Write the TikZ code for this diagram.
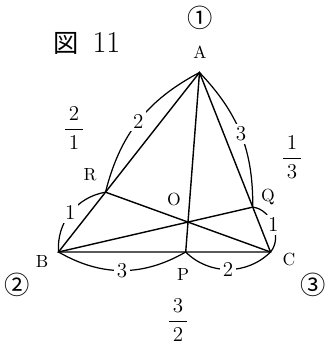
\documentclass[tikz,border=0pt]{standalone}
\usepackage{amsmath}
\usepackage{fontspec}
\newfontfamily\cjk{Noto Sans CJK JP}
\usetikzlibrary{calc}

\begin{document}
\begin{tikzpicture}[
  seg/.style={line width=0.8pt},
  arcb/.style={line width=0.7pt},
  ptl/.style={font=\normalsize, inner sep=1pt},
  arcnum/.style={fill=white, font=\large, inner sep=1.5pt},
  frc/.style={font=\large, inner sep=0pt},
  circnum/.style={font=\cjk\Large, inner sep=0pt},
]
\useasboundingbox (0,0) rectangle (6.5,7.08);

%% ── Vertices and division points ────────────────────────────────────────────
\coordinate (A) at (3.99, 5.63);
\coordinate (B) at (1.17, 2.04);
\coordinate (C) at (5.41, 2.04);
\coordinate (P) at ($(B)!0.6!(C)$);      % BP:PC = 3:2
\coordinate (Q) at ($(A)!0.75!(C)$);     % AQ:QC = 3:1
\coordinate (R) at ($(A)!0.6667!(B)$);   % AR:RB = 2:1
\coordinate (O) at (intersection of B--Q and C--R);

%% ── Triangle and cevians ────────────────────────────────────────────────────
\draw[seg] (A) -- (B) -- (C) -- cycle;
\draw[seg] (A) -- (P);
\draw[seg] (B) -- (Q);
\draw[seg] (C) -- (R);

%% ── Ratio arcs ──────────────────────────────────────────────────────────────
\draw[arcb] (A) to[bend right=24] node[arcnum] (nAR) {2} (R);
\draw[arcb] (R) to[bend right=42] node[arcnum] (nRB) {1} (B);
\draw[arcb] (A) to[bend left=22]  node[arcnum] (nAQ) {3} (Q);
\draw[arcb] (Q) to[bend left=62]  node[arcnum] (nQC) {1} (C);
\draw[arcb] (B) to[bend right=30] node[arcnum] (nBP) {3} (P);
\draw[arcb] (P) to[bend right=45] node[arcnum] (nPC) {2} (C);

%% ── Point labels ────────────────────────────────────────────────────────────
\node[ptl] (lA) at (4.00, 6.04) {A};
\node[ptl] (lB) at (0.84, 1.84) {B};
\node[ptl] (lC) at (5.78, 1.88) {C};
\node[ptl] (lP) at (3.66, 1.58) {P};
\node[ptl] (lQ) at (5.36, 3.14) {Q};
\node[ptl] (lR) at (1.80, 3.58) {R};
\node[ptl] (lO) at (3.48, 3.08) {O};

%% ── Title, weights and ratios ───────────────────────────────────────────────
\node[font=\LARGE] (title) at (1.74, 6.22) {{\cjk\Large 図}\hspace{0.45em}11};
\node[circnum] (w1) at (4.00, 6.72) {①};
\node[circnum] (w2) at (0.34, 1.38) {②};
\node[circnum] (w3) at (6.26, 1.38) {③};
\node[frc] (fAB) at (1.48, 4.52) {$\dfrac{\,2\,}{\,1\,}$};
\node[frc] (fAC) at (5.84, 3.94) {$\dfrac{\,1\,}{\,3\,}$};
\node[frc] (fBC) at (3.56, 0.68) {$\dfrac{\,3\,}{\,2\,}$};

\end{tikzpicture}
\end{document}
